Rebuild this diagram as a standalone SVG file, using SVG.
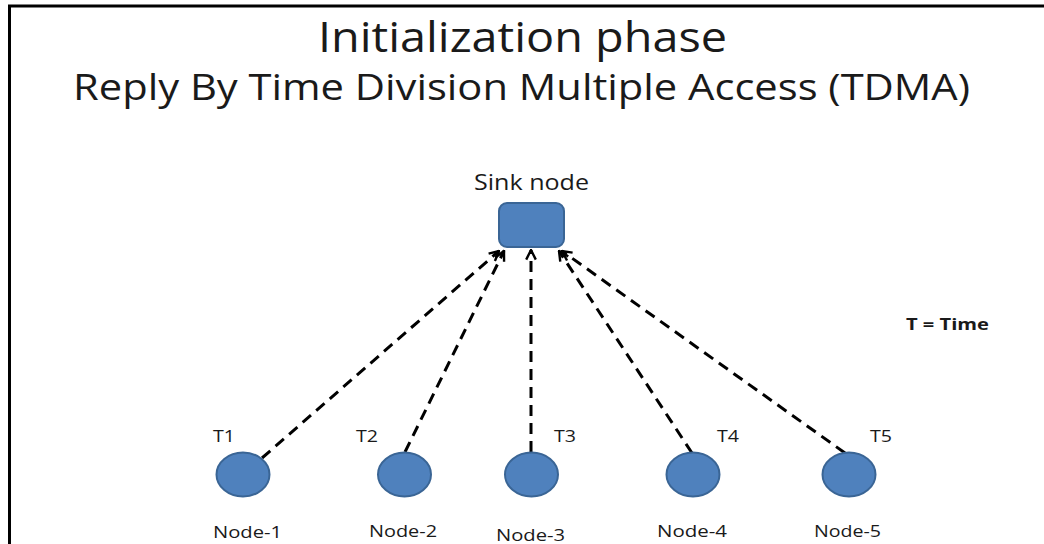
<svg xmlns="http://www.w3.org/2000/svg" width="1044" height="544" viewBox="0 0 1044 544">
<style>
text{font-family:"Open Sans","Liberation Sans",sans-serif;fill:#1a1a1a}
.title{font-size:42px}
.sub{font-size:36px}
.lbl{font-size:21px}
.t{font-size:16px}
.nl{font-size:16px}
.key{font-size:16px;font-weight:bold}
.node{fill:#4F81BD;stroke:#3A6595;stroke-width:2}
.conn{stroke:#000;stroke-width:3;stroke-dasharray:11 7;fill:none;marker-end:url(#arr)}
</style>
<defs>
<marker id="arr" viewBox="0 0 10 10" refX="9" refY="5" markerWidth="4" markerHeight="4" orient="auto" markerUnits="strokeWidth">
<path d="M1,1 L9,5 L1,9" fill="none" stroke="#000" stroke-width="2"/>
</marker>
</defs>
<rect width="1044" height="544" fill="#fff"/>
<path d="M9.5,544 V6 H1044" fill="none" stroke="#000" stroke-width="3"/>
<text class="title" x="318" y="52" textLength="409" lengthAdjust="spacingAndGlyphs">Initialization phase</text>
<text class="sub" x="73" y="100" textLength="897" lengthAdjust="spacingAndGlyphs">Reply By Time Division Multiple Access (TDMA)</text>
<text class="key" x="906" y="330" textLength="83" lengthAdjust="spacingAndGlyphs">T = Time</text>
<g id="connectors">
<line class="conn" x1="262" y1="458" x2="499" y2="251"/>
<line class="conn" x1="405" y1="452" x2="504" y2="251"/>
<line class="conn" x1="531" y1="452" x2="531" y2="250"/>
<line class="conn" x1="692" y1="453" x2="559" y2="251"/>
<line class="conn" x1="845" y1="453" x2="562" y2="251"/>
</g>
<g id="sink">
<rect class="node" x="499" y="203" width="65" height="44" rx="8"/>
<text class="lbl" x="474" y="190" textLength="115" lengthAdjust="spacingAndGlyphs">Sink node</text>
</g>
<g id="node1">
<ellipse class="node" cx="243" cy="474.5" rx="26.5" ry="22"/>
<text class="t" x="213" y="442" textLength="22" lengthAdjust="spacingAndGlyphs">T1</text>
<text class="nl" x="213" y="538" textLength="69" lengthAdjust="spacingAndGlyphs">Node-1</text>
</g>
<g id="node2">
<ellipse class="node" cx="404.5" cy="474.5" rx="26.5" ry="22"/>
<text class="t" x="356" y="442" textLength="22" lengthAdjust="spacingAndGlyphs">T2</text>
<text class="nl" x="369" y="537" textLength="68" lengthAdjust="spacingAndGlyphs">Node-2</text>
</g>
<g id="node3">
<ellipse class="node" cx="531.5" cy="474.5" rx="26.5" ry="22"/>
<text class="t" x="554" y="442" textLength="22" lengthAdjust="spacingAndGlyphs">T3</text>
<text class="nl" x="496" y="541" textLength="69" lengthAdjust="spacingAndGlyphs">Node-3</text>
</g>
<g id="node4">
<ellipse class="node" cx="693" cy="474.5" rx="26.5" ry="22"/>
<text class="t" x="717" y="442" textLength="22" lengthAdjust="spacingAndGlyphs">T4</text>
<text class="nl" x="657" y="537" textLength="70" lengthAdjust="spacingAndGlyphs">Node-4</text>
</g>
<g id="node5">
<ellipse class="node" cx="849" cy="474.5" rx="26.5" ry="22"/>
<text class="t" x="870" y="442" textLength="22" lengthAdjust="spacingAndGlyphs">T5</text>
<text class="nl" x="814" y="537" textLength="67" lengthAdjust="spacingAndGlyphs">Node-5</text>
</g>
</svg>
